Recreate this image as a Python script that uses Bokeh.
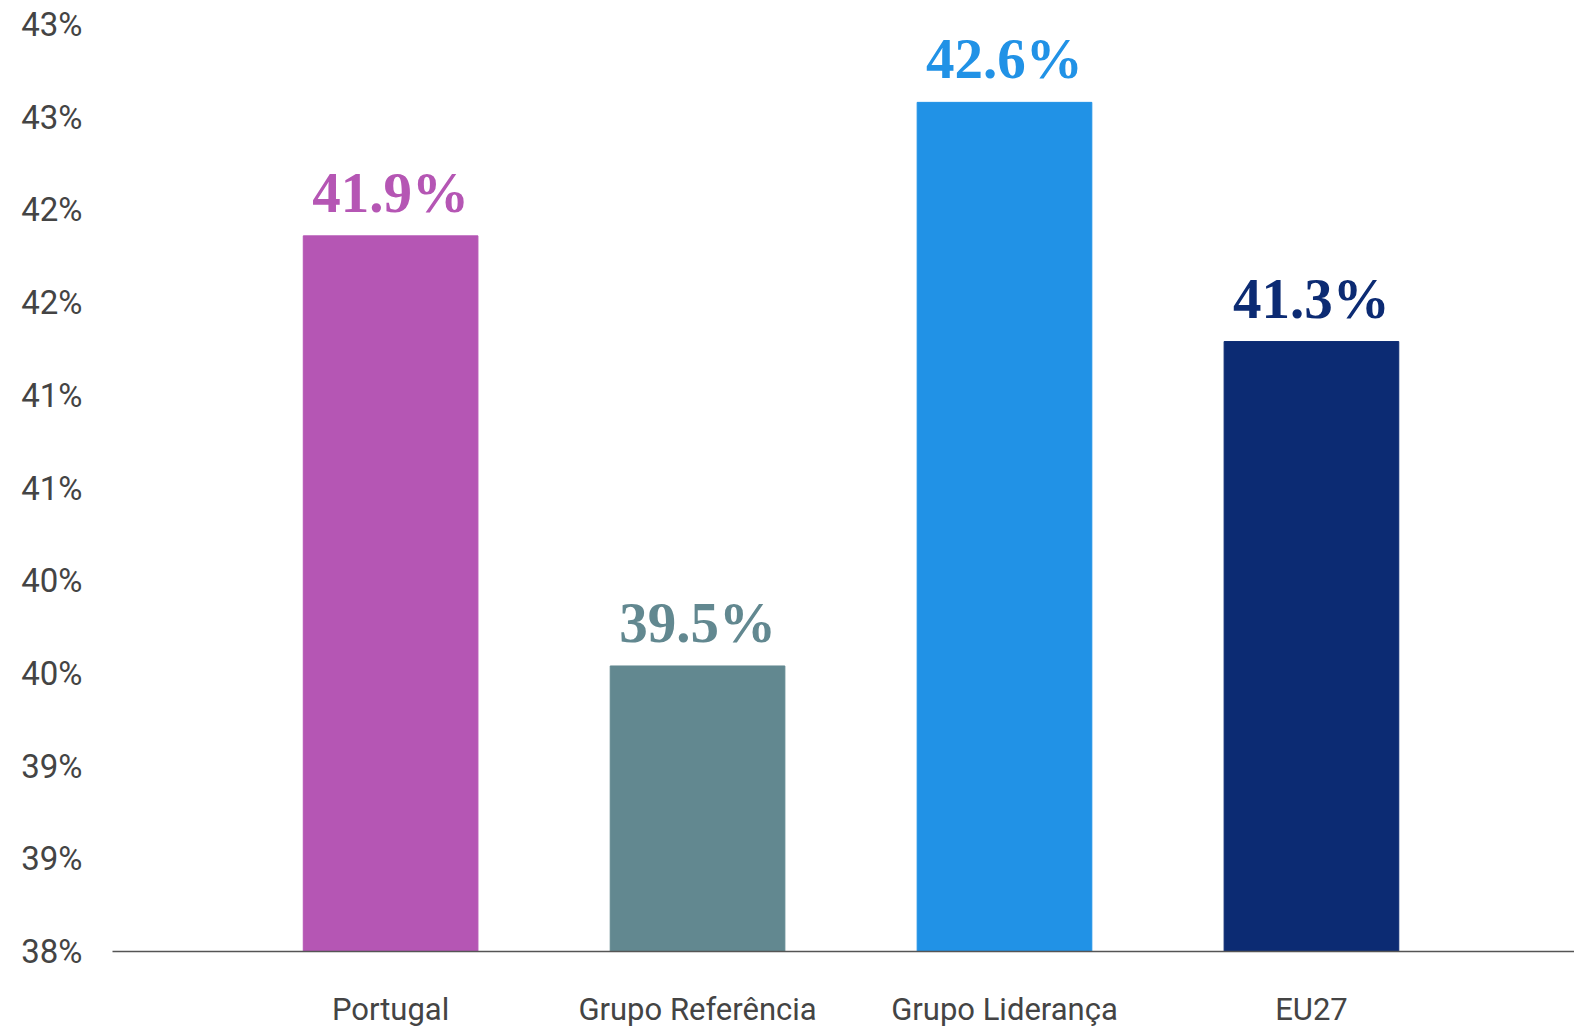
from bokeh.plotting import figure
from bokeh.models import ColumnDataSource, Range1d, FixedTicker
from bokeh.core.properties import value
from bokeh.embed import file_html
from bokeh.resources import INLINE

categories = ["Portugal", "Grupo Referência", "Grupo Liderança", "EU27"]
values = [41.86, 39.54, 42.58, 41.29]
value_labels = ["41.9%", "39.5%", "42.6%", "41.3%"]
colors = ["#B556B4", "#628890", "#2192E6", "#0C2B73"]
y_ticks = [38, 38.5, 39, 39.5, 40, 40.5, 41, 41.5, 42, 42.5, 43]
y_tick_labels = ["38%", "39%", "39%", "40%", "40%", "41%", "41%", "42%", "42%", "43%", "43%"]

xs = list(range(len(categories)))
src = ColumnDataSource(dict(x=xs, top=values, color=colors, label=value_labels))

p = figure(width=1574, height=1030, output_backend="svg", toolbar_location=None,
           x_range=Range1d(-0.906, 3.857), y_range=Range1d(38, 43),
           min_border_left=112, min_border_right=0, min_border_top=24, min_border_bottom=72)
p.outline_line_color = None
p.xgrid.visible = False
p.ygrid.visible = False
p.background_fill_color = "white"

p.vbar(x="x", top="top", bottom=38, width=0.569, color="color", source=src)
p.text(x="x", y="top", text="label", text_color="color", source=src,
       text_align="center", text_baseline="bottom", y_offset=-12,
       text_font=value("Liberation Serif"), text_font_style="bold", text_font_size="57px")

xa = p.xaxis[0]
xa.ticker = FixedTicker(ticks=xs)
xa.major_label_overrides = {i: c for i, c in zip(xs, categories)}
xa.axis_line_color = "#555555"
xa.axis_line_width = 1.5
xa.major_tick_line_color = None
xa.minor_tick_line_color = None
xa.major_label_text_font = "Roboto"
xa.major_label_text_font_size = "31px"
xa.major_label_text_color = "#444444"
xa.major_label_text_line_height = 0.75
xa.major_label_standoff = 33

ya = p.yaxis[0]
ya.ticker = FixedTicker(ticks=y_ticks)
ya.major_label_overrides = {t: l for t, l in zip(y_ticks, y_tick_labels)}
ya.axis_line_color = None
ya.major_tick_line_color = None
ya.minor_tick_line_color = None
ya.major_label_text_font = "Roboto"
ya.major_label_text_font_size = "33px"
ya.major_label_text_color = "#444444"
ya.major_label_standoff = 24

open("out.html", "w").write(file_html(p, INLINE))
